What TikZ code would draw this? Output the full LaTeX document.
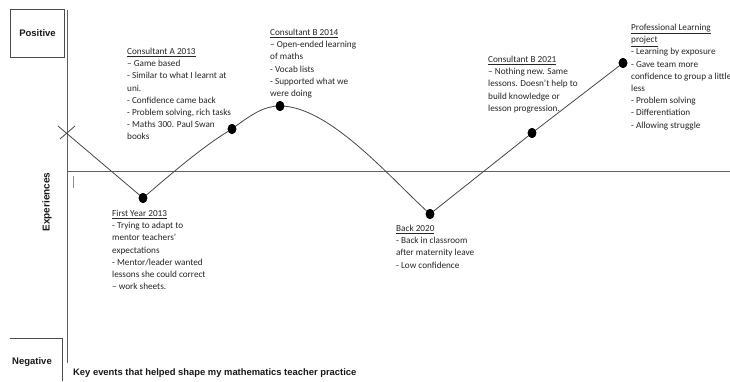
\documentclass[tikz,border=0pt]{standalone}
\usepackage{fontspec}
\setmainfont{Carlito}
\newfontfamily\labfont{Liberation Sans}
\usetikzlibrary{shapes.geometric}
\begin{document}
\begin{tikzpicture}[x=1pt,y=-1pt,
  axisline/.style={draw=black!62, line width=0.9pt},
  curveline/.style={draw=black!72, line width=0.8pt},
  boxline/.style={draw=black!70, line width=0.7pt},
  evdot/.style={ellipse, fill=black, minimum width=8.6pt, minimum height=10pt, inner sep=0pt},
  evtext/.style={anchor=north west, inner sep=0pt, align=left, font=\fontsize{9.2}{12.2}\selectfont, text=black!85},
  lab/.style={inner sep=0pt, text=black!90, font=\labfont\bfseries\fontsize{9.5}{11}\selectfont}
]
\clip (0,0) rectangle (730,381);
\fill[white] (0,0) rectangle (730,381);

% boxes and axes
\node[boxline, minimum width=53.6pt, minimum height=48.7pt, inner sep=0pt] (pos) at (37.5,33.4) {};
\node[lab] (poslab) at (pos.center) {Positive};
\draw[boxline] (10,338) -- (62.7,338) -- (62.7,381);
\node[lab] (neglab) at (32,362) {Negative};
\coordinate (axtop) at (67.5,10);
\coordinate (axbot) at (67.5,363);
\coordinate (axmid) at (67.5,171);
\coordinate (axend) at (730,171);
\draw[axisline] (axtop) -- (axbot);
\draw[axisline] (axmid) -- (axend);
\node[lab, rotate=90, font=\labfont\bfseries\fontsize{10}{12}\selectfont] (exp) at (47,202) {Experiences};
\coordinate (tk1) at (73,176);
\coordinate (tk2) at (73,188);
\draw[black!45, line width=0.6pt] (tk1) -- (tk2);
\node[lab, anchor=west, font=\labfont\bfseries\fontsize{9.4}{11}\selectfont] (title) at (73,373) {Key events that helped shape my mathematics teacher practice};

% curve
\coordinate (s) at (58,126);
\coordinate (x1) at (60,139);
\coordinate (x2) at (75,126);
\node[evdot] (d1) at (143,198) {};
\node[evdot] (d2) at (232,129) {};
\node[evdot] (d3) at (280,106) {};
\node[evdot] (d4) at (430,214) {};
\node[evdot] (d5) at (532,133) {};
\node[evdot] (d6) at (623,63) {};
\draw[curveline] (x1) -- (x2);
\draw[curveline] (s) -- (d1.center)
  .. controls (180,166) and (208,143) .. (d2.center)
  .. controls (252,114) and (264,106) .. (d3.center)
  .. controls (330,106) and (392,180) .. (d4.center)
  -- (d5.center) -- (d6.center);
\foreach \d in {d1,d2,d3,d4,d5,d6} \node[evdot] at (\d) {};

% texts
\node[evtext] (ta) at (127,48) {\underline{Consultant A 2013}\\– Game based\\- Similar to what I learnt at\\uni.\\- Confidence came back\\- Problem solving, rich tasks\\- Maths 300. Paul Swan\\books};
\node[evtext] (tb) at (270,29) {\underline{Consultant B 2014}\\– Open-ended learning\\of maths\\- Vocab lists\\- Supported what we\\were doing};
\node[evtext] (tc) at (488,56) {\underline{Consultant B 2021}\\– Nothing new. Same\\lessons. Doesn’t help to\\build knowledge or\\lesson progression.};
\node[evtext] (tp) at (631,24) {\underline{Professional Learning}\\\underline{project}\\- Learning by exposure\\- Gave team more\\confidence to group a little\\less\\- Problem solving\\- Differentiation\\- Allowing struggle};
\node[evtext] (tf) at (112,210) {\underline{First Year 2013}\\- Trying to adapt to\\mentor teachers’\\expectations\\- Mentor/leader wanted\\lessons she could correct\\– work sheets.};
\node[evtext] (tk) at (396,225) {\underline{Back 2020}\\- Back in classroom\\after maternity leave\\- Low confidence};
\end{tikzpicture}
\end{document}
